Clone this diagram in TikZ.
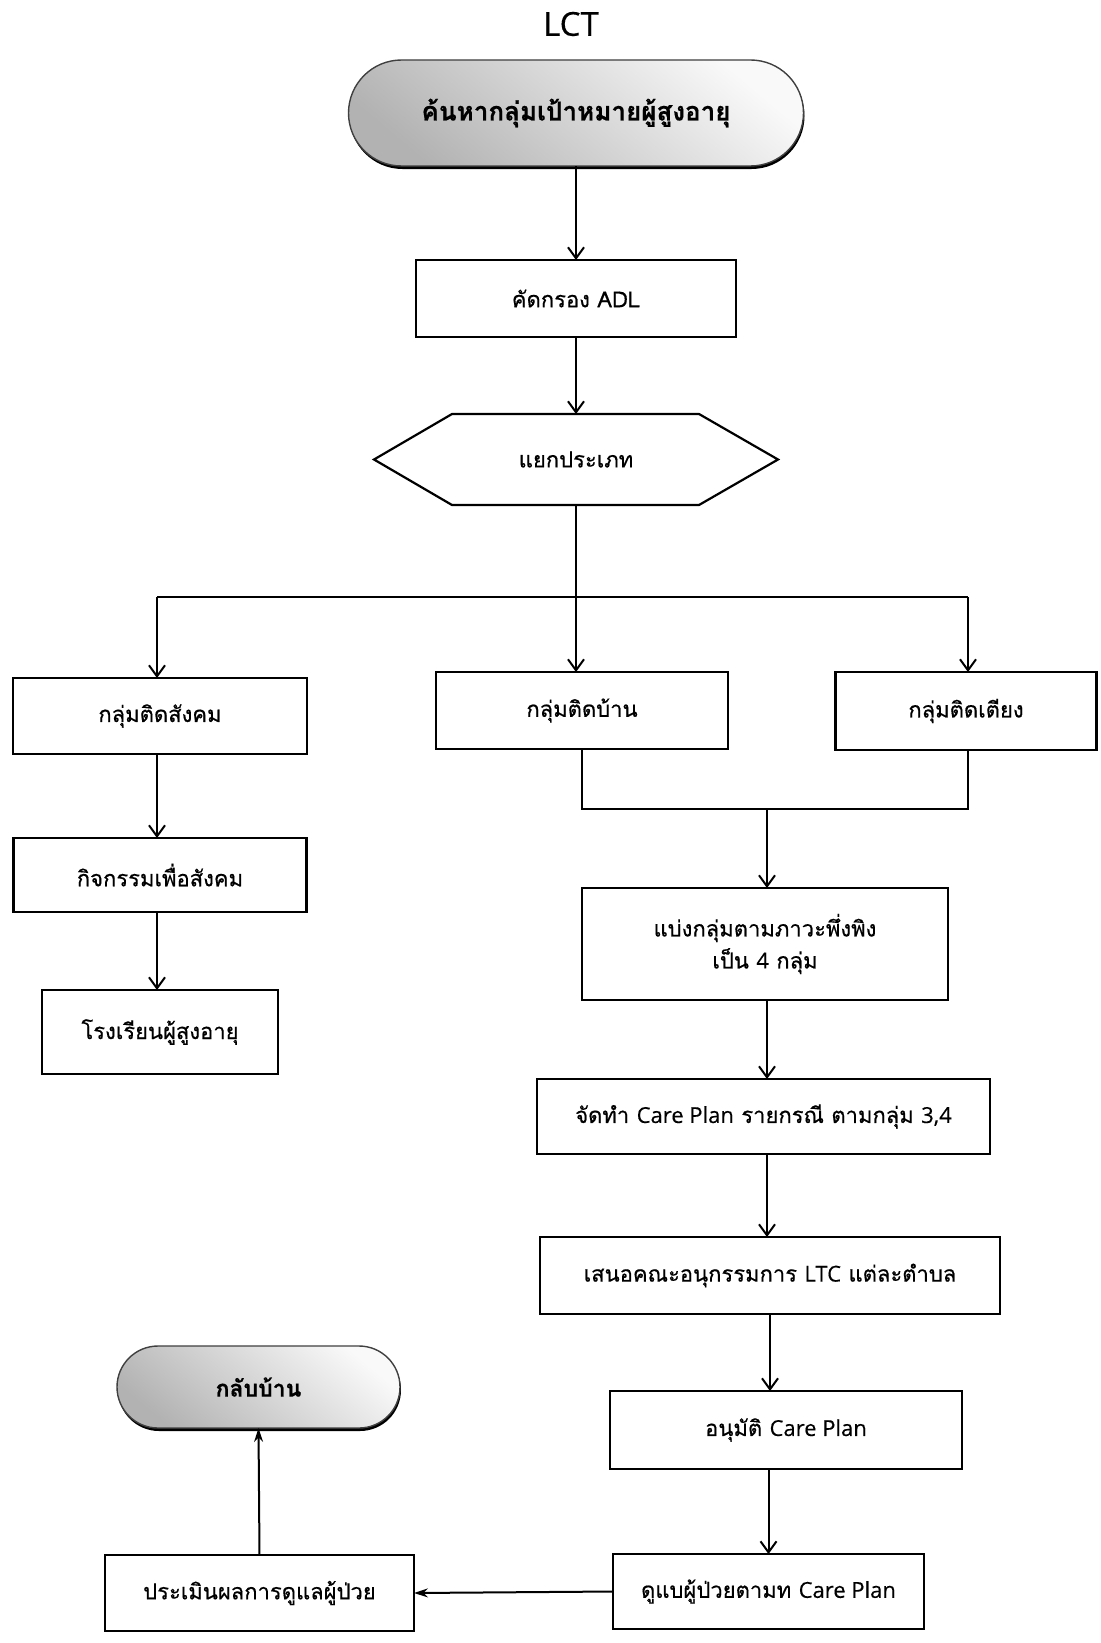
\documentclass[tikz,border=0pt]{standalone}
\usepackage{fontspec}
\setmainfont[Script=Thai,FakeBold=0.5]{Loma}
\newfontfamily\lat[FakeBold=0.3]{Open Sans}
\usetikzlibrary{arrows.meta,shapes.misc,shadows}
\begin{document}
\begin{tikzpicture}[x=1pt,y=-1pt,
  every node/.style={font=\fontsize{22}{32}\selectfont},
  box/.style={draw, line width=2.2pt, rectangle, inner sep=0pt, outer sep=0pt, align=center},
  term/.style={draw=black!75, line width=1.4pt, rounded rectangle, inner sep=0pt, outer sep=0pt,
    top color=gray!5, bottom color=gray!60, shading angle=-40,
    general shadow={shadow yshift=-3pt, shadow xshift=1pt, fill=black}},
  conn/.style={line width=2pt},
  arr/.style={conn, -{Straight Barb[length=11pt,width=16pt,line width=2pt]}},
  farr/.style={conn, -{Stealth[length=14pt,width=9pt]}},
]
\fill[white] (0,0) rectangle (1100,1643);
\useasboundingbox (0,0) rectangle (1100,1643);

\node[font=\fontsize{33}{36}\selectfont\lat] (title) at (571,24) {LCT};
\node[term, minimum width=455, minimum height=106, font=\fontsize{26}{30}\selectfont\bfseries] (start) at (576,113) {ค้นหากลุ่มเป้าหมายผู้สูงอายุ};
\node[box, minimum width=320, minimum height=77] (adl) at (576,298.5) {คัดกรอง ADL};
\node[inner sep=0pt, outer sep=0pt, minimum width=404, minimum height=91] (hex) at (576,459.5) {แยกประเภท};
\draw[line width=2.2pt, line join=miter] (hex.west) -- ([xshift=78]hex.north west) -- ([xshift=-79]hex.north east)
  -- (hex.east) -- ([xshift=-79]hex.south east) -- ([xshift=78]hex.south west) -- cycle;

\node[box, minimum width=294, minimum height=76] (social) at (160,716) {กลุ่มติดสังคม};
\node[box, minimum width=292, minimum height=77] (homebound) at (582,710.5) {กลุ่มติดบ้าน};
\node[box, minimum width=261, minimum height=78] (bed) at (966,711) {กลุ่มติดเตียง};

\node[box, minimum width=293, minimum height=74] (activity) at (160,875) {กิจกรรมเพื่อสังคม};
\node[box, minimum width=236, minimum height=84] (school) at (160,1032) {โรงเรียนผู้สูงอายุ};

\node[box, minimum width=366, minimum height=112] (group4) at (765,944) {แบ่งกลุ่มตามภาวะพึ่งพิง\\เป็น {\lat 4} กลุ่ม};
\node[box, minimum width=453, minimum height=75] (plan) at (763.5,1116.5) {จัดทำ {\lat Care Plan} รายกรณี ตามกลุ่ม {\lat 3,4}};
\node[box, minimum width=460, minimum height=77] (committee) at (770,1275.5) {เสนอคณะอนุกรรมการ {\lat LTC} แต่ละตำบล};
\node[box, minimum width=352, minimum height=78] (approve) at (786,1430) {อนุมัติ {\lat Care Plan}};
\node[box, minimum width=311, minimum height=75] (care) at (768.5,1591.5) {ดูแบผู้ป่วยตามท {\lat Care Plan}};
\node[box, minimum width=309, minimum height=76] (eval) at (259.5,1593) {ประเมินผลการดูแลผู้ป่วย};
\node[term, minimum width=283, minimum height=82, font=\fontsize{23}{30}\selectfont\bfseries] (back) at (258.5,1387) {กลับบ้าน};

\coordinate (split) at (576,597);
\coordinate (barL) at (157,597);
\coordinate (barR) at (968,597);
\coordinate (joinL) at (582,809);
\coordinate (joinR) at (968,809);
\coordinate (joinM) at (767,809);

\draw[arr] (start) -- (adl);
\draw[arr] (adl) -- (hex.north);
\draw[conn] (hex.south) -- (split);
\draw[conn] (barL) -- (barR);
\draw[arr] (barL) -- (barL |- social.north);
\draw[arr] (split) -- (split |- homebound.north);
\draw[arr] (barR) -- (barR |- bed.north);

\draw[arr] (barL |- social.south) -- (barL |- activity.north);
\draw[arr] (barL |- activity.south) -- (barL |- school.north);

\draw[conn] (homebound.south) -- (joinL) -- (joinR) -- (joinR |- bed.south);
\draw[arr] (joinM) -- (joinM |- group4.north);
\draw[arr] (joinM |- group4.south) -- (joinM |- plan.north);
\draw[arr] (joinM |- plan.south) -- (joinM |- committee.north);
\draw[arr] (committee.south) -- (committee.south |- approve.north);
\draw[arr] (care.north |- approve.south) -- (care.north);
\draw[farr] (care.west) -- (eval.east);
\draw[farr] (eval.north) -- (back.south);
\end{tikzpicture}
\end{document}
